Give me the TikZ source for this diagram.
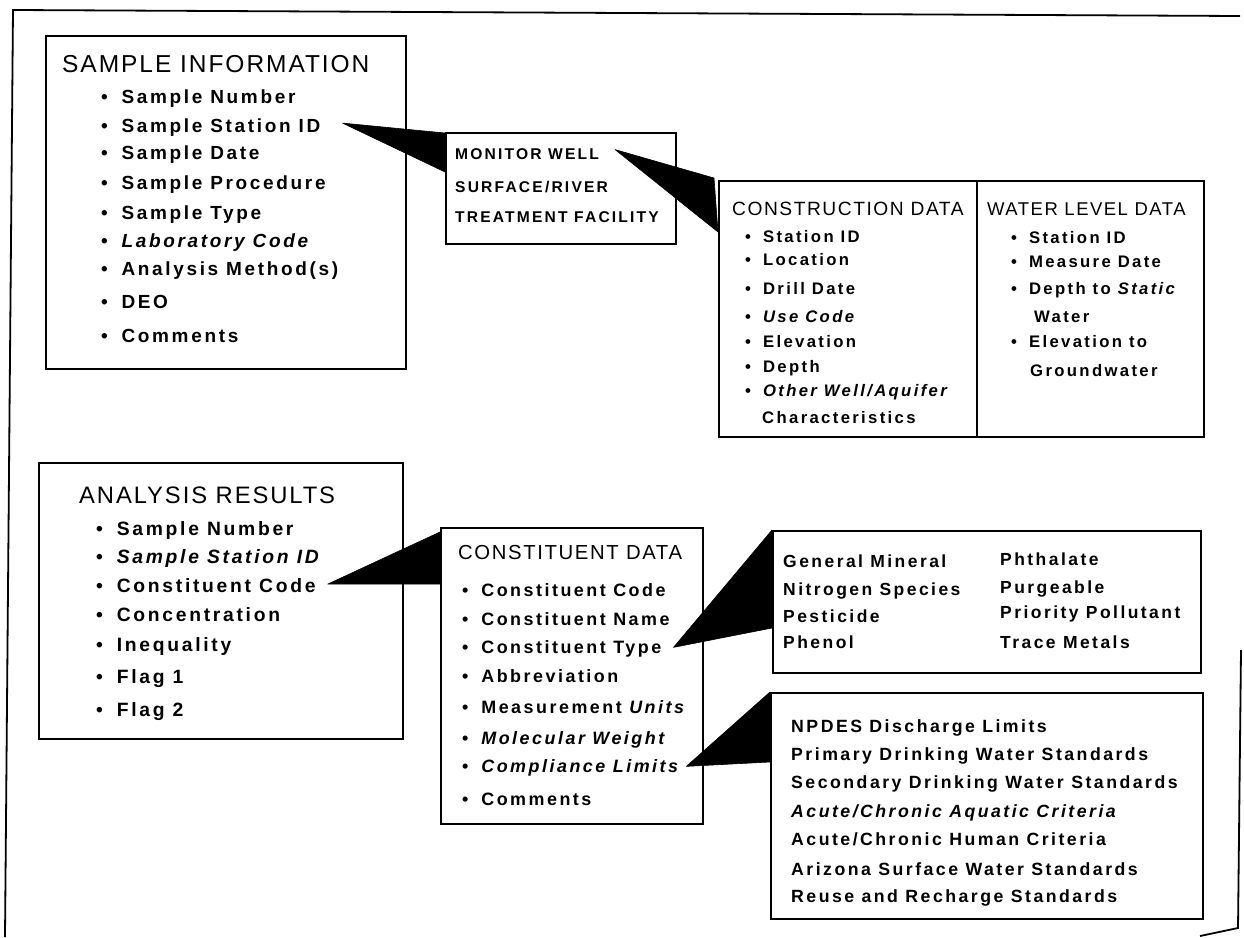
\documentclass[tikz,border=0pt]{standalone}
\usepackage{fontspec}
\usetikzlibrary{calc}
\newfontfamily\itf[LetterSpace=14]{Liberation Sans}
\newfontfamily\ttlf[LetterSpace=8]{Liberation Sans}
\newcommand\fsz[1]{\fontsize{#1}{#1}\selectfont}
\newcommand\bul{\textbullet\hspace{0.72em}}
\begin{document}
\begin{tikzpicture}[x=1pt,y=-1pt,
  box/.style={draw, line width=1.6pt, anchor=north west, inner sep=0pt},
  ttl/.style={anchor=base west, inner sep=0pt, font=\ttlf\fsz{#1}},
  itm/.style={anchor=base west, inner sep=0pt, font=\itf\bfseries\fsz{#1}},
  wedge/.style={fill=black, draw=black, line width=0.6pt, line join=round}]
\useasboundingbox (0,0) rectangle (1244,937);
% outer frame
\draw[line width=1.8pt] (5,937) -- (13,10) -- (1240,16);
\draw[line width=1.8pt] (1241,650) -- (1238,928) -- (1200,936);

% boxes
\node[box, minimum width=360pt, minimum height=333pt] (sibox) at (45,35) {};
\node[box, minimum width=230pt, minimum height=111pt] (mwbox) at (445,132) {};
\node[box, minimum width=258pt, minimum height=256pt] (cdbox) at (718,180) {};
\node[box, minimum width=227pt, minimum height=256pt] (wlbox) at (976,180) {};
\node[box, minimum width=364pt, minimum height=276pt] (arbox) at (38,462) {};
\node[box, minimum width=262pt, minimum height=296pt] (cobox) at (440,527) {};
\node[box, minimum width=428pt, minimum height=142pt] (tybox) at (772,530) {};
\node[box, minimum width=432pt, minimum height=226pt] (clbox) at (770,692) {};

% SAMPLE INFORMATION
\node[ttl=24.5] (sit) at (62,72) {SAMPLE INFORMATION};
\node[itm=19] (si1) at (101,103) {\bul Sample Number};
\node[itm=19] (si2) at (101,132) {\bul Sample Station ID};
\node[itm=19] (si3) at (101,159) {\bul Sample Date};
\node[itm=19] (si4) at (101,189) {\bul Sample Procedure};
\node[itm=19] (si5) at (101,219) {\bul Sample Type};
\node[itm=19] (si6) at (101,247) {\bul\itshape Laboratory Code};
\node[itm=19] (si7) at (101,275) {\bul Analysis Method(s)};
\node[itm=19] (si8) at (101,308) {\bul DEO};
\node[itm=19] (si9) at (101,342) {\bul Comments};

% station types
\node[itm=15.6] (mw1) at (455,159) {MONITOR WELL};
\node[itm=15.6] (mw2) at (455,192) {SURFACE/RIVER};
\node[itm=15.6] (mw3) at (455,222) {TREATMENT FACILITY};

% CONSTRUCTION DATA
\node[ttl=19.2] (cdt) at (732,215) {CONSTRUCTION DATA};
\node[itm=16.7] (cd1) at (745,242) {\bul Station ID};
\node[itm=16.7] (cd2) at (745,265) {\bul Location};
\node[itm=16.7] (cd3) at (745,294) {\bul Drill Date};
\node[itm=16.7] (cd4) at (745,322) {\bul\itshape Use Code};
\node[itm=16.7] (cd5) at (745,347) {\bul Elevation};
\node[itm=16.7] (cd6) at (745,372) {\bul Depth};
\node[itm=16.7] (cd7) at (745,396) {\bul\itshape Other Well/Aquifer};
\node[itm=16.7] (cd8) at (762,423) {Characteristics};

% WATER LEVEL DATA
\node[ttl=18.5] (wlt) at (987,215) {WATER LEVEL DATA};
\node[itm=16.7] (wl1) at (1011,243) {\bul Station ID};
\node[itm=16.7] (wl2) at (1011,267) {\bul Measure Date};
\node[itm=16.7] (wl3) at (1011,294) {\bul Depth to {\itshape Static}};
\node[itm=16.7] (wl4) at (1034,322) {Water};
\node[itm=16.7] (wl5) at (1011,347) {\bul Elevation to};
\node[itm=16.7] (wl6) at (1030,376) {Groundwater};

% ANALYSIS RESULTS
\node[ttl=23.8] (art) at (79,503) {ANALYSIS RESULTS};
\node[itm=19.3] (ar1) at (96,535) {\bul Sample Number};
\node[itm=19.3] (ar2) at (96,563) {\bul\itshape Sample Station ID};
\node[itm=19.3] (ar3) at (96,592) {\bul Constituent Code};
\node[itm=19.3] (ar4) at (96,621) {\bul Concentration};
\node[itm=19.3] (ar5) at (96,651) {\bul Inequality};
\node[itm=19.3] (ar6) at (96,683) {\bul Flag 1};
\node[itm=19.3] (ar7) at (96,716) {\bul Flag 2};

% CONSTITUENT DATA
\node[ttl=20.3] (cot) at (458,559) {CONSTITUENT DATA};
\node[itm=17.9] (co1) at (462,596) {\bul Constituent Code};
\node[itm=17.9] (co2) at (462,625) {\bul Constituent Name};
\node[itm=17.9] (co3) at (462,653) {\bul Constituent Type};
\node[itm=17.9] (co4) at (462,682) {\bul Abbreviation};
\node[itm=17.9] (co5) at (462,713) {\bul Measurement {\itshape Units}};
\node[itm=17.9] (co6) at (462,744) {\bul\itshape Molecular Weight};
\node[itm=17.9] (co7) at (462,772) {\bul\itshape Compliance Limits};
\node[itm=17.9] (co8) at (462,805) {\bul Comments};

% constituent types
\node[itm=17.5] (ty1) at (783,567) {General Mineral};
\node[itm=17.5] (ty2) at (783,595) {Nitrogen Species};
\node[itm=17.5] (ty3) at (783,622) {Pesticide};
\node[itm=17.5] (ty4) at (783,648) {Phenol};
\node[itm=17.5] (ty5) at (1000,565) {Phthalate};
\node[itm=17.5] (ty6) at (1000,593) {Purgeable};
\node[itm=17.5] (ty7) at (1000,618) {Priority Pollutant};
\node[itm=17.5] (ty8) at (1000,648) {Trace Metals};

% compliance limits
\node[itm=17.7] (cl1) at (791,732) {NPDES Discharge Limits};
\node[itm=17.7] (cl2) at (791,760) {Primary Drinking Water Standards};
\node[itm=17.7] (cl3) at (791,788) {Secondary Drinking Water Standards};
\node[itm=17.7] (cl4) at (791,817) {\itshape Acute/Chronic Aquatic Criteria};
\node[itm=17.7] (cl5) at (791,845) {Acute/Chronic Human Criteria};
\node[itm=17.7] (cl6) at (791,875) {Arizona Surface Water Standards};
\node[itm=17.7] (cl7) at (791,902) {Reuse and Recharge Standards};

% wedge connectors
\fill[wedge] ($(si2.east)+(22,-4)$) -- ($(mwbox.north west)+(0,1)$) -- ($(mwbox.north west)+(0,40)$) -- cycle;
\fill[wedge] ($(mw1.east)+(16,-4)$) -- ($(cdbox.north west)+(-4,-2)$) -- ($(cdbox.north west)+(0,52)$) -- cycle;
\fill[wedge] ($(ar3.east)+(12,-1)$) -- ($(cobox.north west)+(0,5)$) -- ($(cobox.north west)+(0,57)$) -- cycle;
\fill[wedge] ($(co3.east)+(12,-1)$) -- ($(tybox.north west)+(0,0)$) -- ($(tybox.north west)+(0,98)$) -- cycle;
\fill[wedge] ($(co7.east)+(8,-1)$) -- ($(clbox.north west)+(0,0)$) -- ($(clbox.north west)+(0,70)$) -- cycle;
\end{tikzpicture}
\end{document}
